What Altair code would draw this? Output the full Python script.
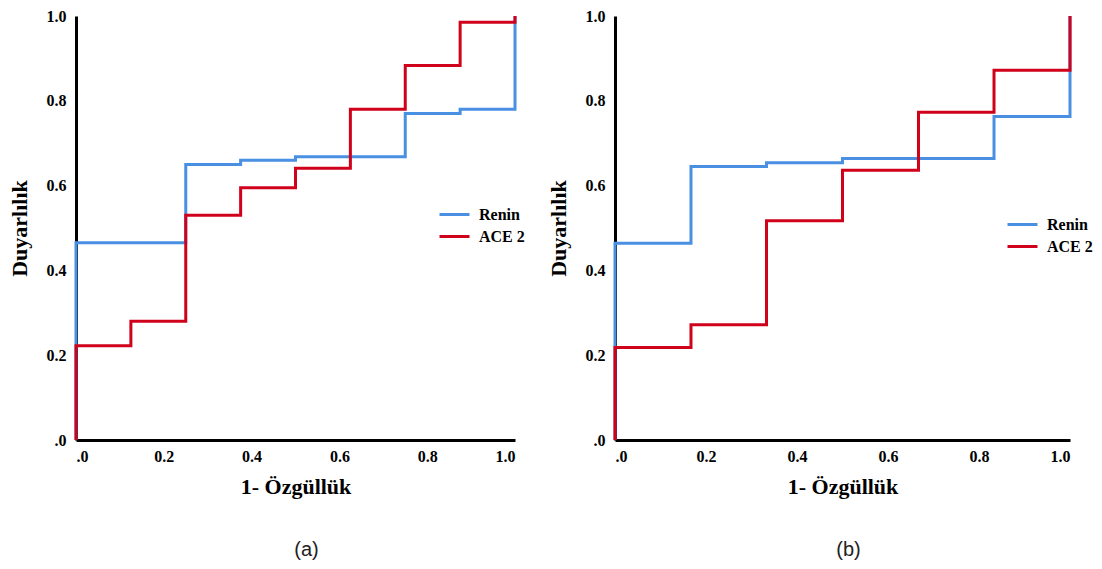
import altair as alt
import pandas as pd

# ---- data ----
series_names = ["Renin", "ACE 2"]
colors = ["#4A90E2", "#D0021B"]

# panel (a)
a_renin_x = [0.0, 0.0, 0.25, 0.375, 0.5, 0.75, 0.875, 1.0]
a_renin_y = [0.0, 0.465, 0.65, 0.66, 0.668, 0.77, 0.78, 1.0]
a_ace_x = [0.0, 0.0, 0.125, 0.25, 0.375, 0.5, 0.625, 0.75, 0.875, 1.0]
a_ace_y = [0.0, 0.222, 0.28, 0.53, 0.595, 0.641, 0.78, 0.883, 0.985, 1.0]

# panel (b)
b_renin_x = [0.0, 0.0, 0.167, 0.333, 0.5, 0.833, 1.0]
b_renin_y = [0.0, 0.464, 0.645, 0.654, 0.664, 0.763, 1.0]
b_ace_x = [0.0, 0.0, 0.167, 0.333, 0.5, 0.667, 0.833, 1.0]
b_ace_y = [0.0, 0.218, 0.272, 0.517, 0.636, 0.773, 0.872, 1.0]

tick_values = [0.0, 0.2, 0.4, 0.6, 0.8, 1.0]
x_title = "1- Özgüllük"
y_title = "Duyarlılık"
captions = ["(a)", "(b)"]


def make_df(rx, ry, ax, ay):
    rows = []
    for i, (x, y) in enumerate(zip(rx, ry)):
        rows.append({"series": "Renin", "idx": i, "fpr": x, "tpr": y})
    for i, (x, y) in enumerate(zip(ax, ay)):
        rows.append({"series": "ACE 2", "idx": i, "fpr": x, "tpr": y})
    return pd.DataFrame(rows)


label_expr = "datum.value == 0 ? '.0' : format(datum.value, '.1f')"


def panel(df, width, legend_x, legend_y, caption, cap_dx):
    color = alt.Color(
        "series:N",
        scale=alt.Scale(domain=series_names, range=colors),
        legend=alt.Legend(
            orient="none",
            legendX=legend_x,
            legendY=legend_y,
            title=None,
            padding=0,
            symbolType="M-1.5,0L1.5,0",
            symbolSize=400,
            symbolStrokeWidth=3,
            labelOffset=13,
            rowPadding=2,
            labelFont="Liberation Serif",
            labelFontWeight="bold",
            labelFontSize=16,
            labelColor="black",
        ),
    )
    x = alt.X(
        "fpr:Q",
        scale=alt.Scale(domain=[0, 1], nice=False),
        axis=alt.Axis(values=tick_values, labelExpr=label_expr, title=x_title),
    )
    y = alt.Y(
        "tpr:Q",
        scale=alt.Scale(domain=[0, 1], nice=False),
        axis=alt.Axis(values=tick_values, labelExpr=label_expr, title=y_title),
    )
    base = alt.Chart(df)
    layers = []
    for name in series_names:
        layers.append(
            base.transform_filter(alt.datum.series == name)
            .mark_line(interpolate="step-after", strokeWidth=3)
            .encode(x=x, y=y, color=color, order="idx:Q")
        )
    return alt.layer(*layers).properties(
        width=width,
        height=424,
        title=alt.TitleParams(
            caption,
            orient="bottom",
            anchor="middle",
            font="Liberation Sans",
            fontSize=20,
            fontWeight="normal",
            color="#222222",
            offset=43,
            dx=cap_dx,
        ),
    )


df_a = make_df(a_renin_x, a_renin_y, a_ace_x, a_ace_y)
df_b = make_df(b_renin_x, b_renin_y, b_ace_x, b_ace_y)

left = panel(df_a, 439, 367, 187, captions[0], 11)
right = panel(df_b, 455, 396, 197, captions[1], 6)

chart = (
    alt.hconcat(left, right, spacing=22)
    .resolve_legend(color="independent")
    .resolve_scale(color="shared")
    .properties(padding={"left": 0, "top": 0, "right": 0, "bottom": 0})
    .configure_view(stroke=None)
    .configure_axis(
        domainColor="black",
        domainWidth=3,
        ticks=False,
        grid=False,
        labelFont="Liberation Serif",
        labelFontWeight="bold",
        labelFontSize=16,
        labelColor="black",
        titleFont="Liberation Serif",
        titleFontWeight="bold",
        titleFontSize=22,
        titleColor="black",
    )
    .configure_axisY(titlePadding=15, labelPadding=10)
    .configure_axisX(titlePadding=12, labelPadding=8)
)

chart.save("out.html", embed_options={"renderer": "svg", "actions": False})
